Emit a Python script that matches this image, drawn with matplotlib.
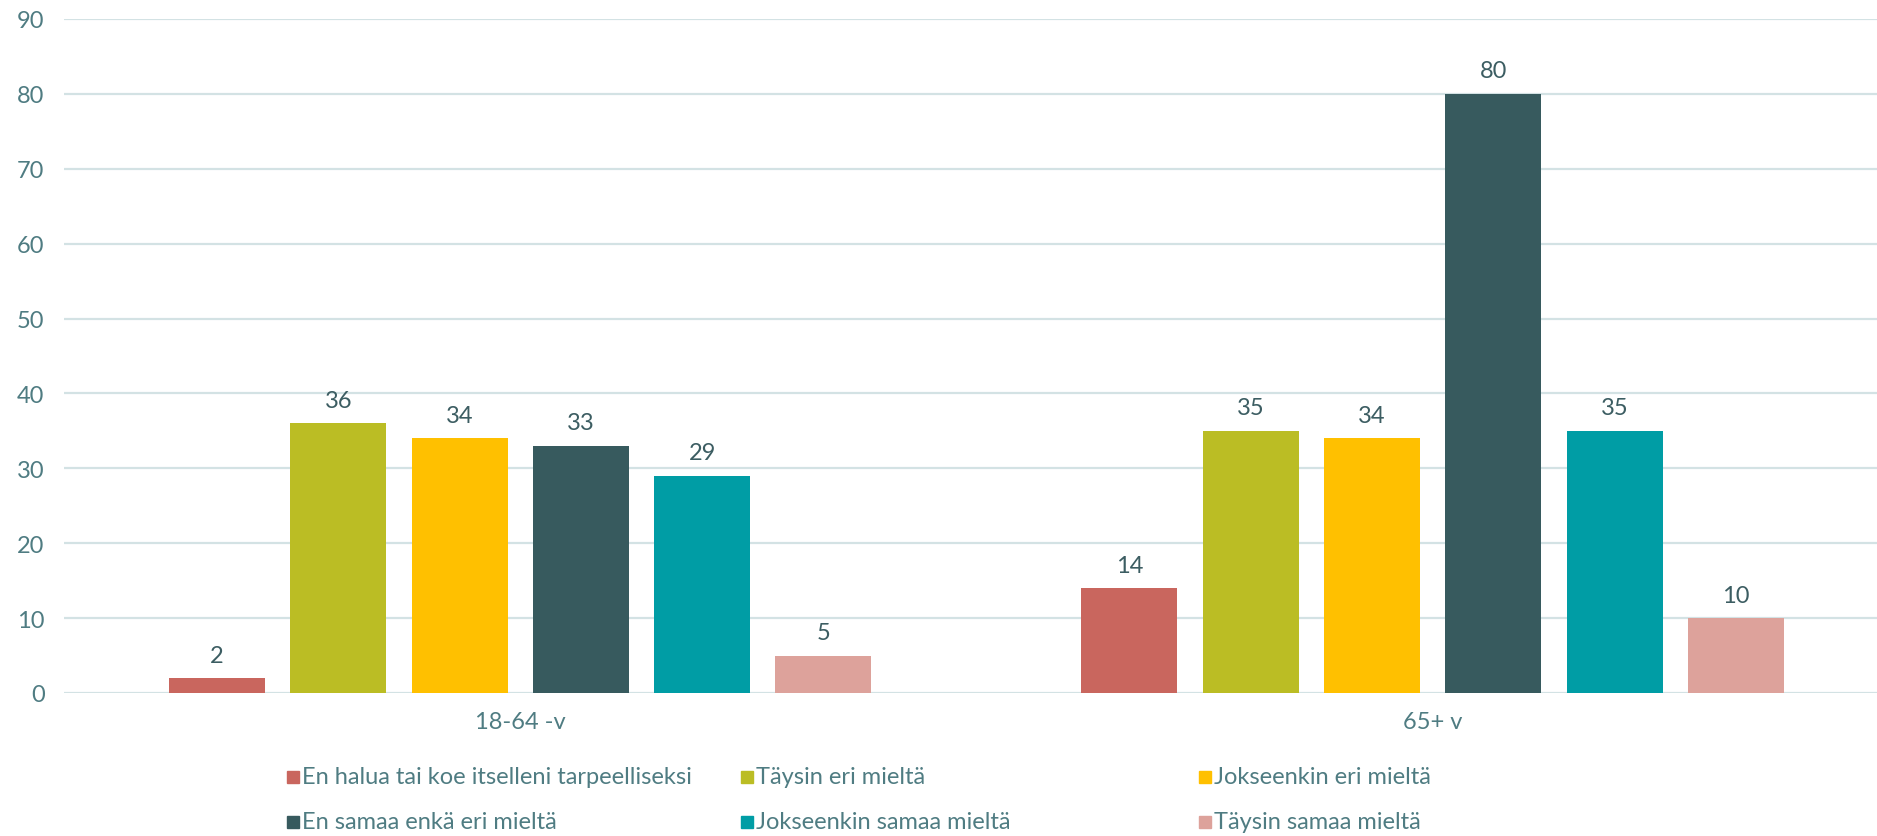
import matplotlib
matplotlib.use("Agg")
import matplotlib.pyplot as plt
from matplotlib.patches import Rectangle
import numpy as np

categories = ["18-64 -v", "65+ v"]
series_names = [
    "En halua tai koe itselleni tarpeelliseksi",
    "Täysin eri mieltä",
    "Jokseenkin eri mieltä",
    "En samaa enkä eri mieltä",
    "Jokseenkin samaa mieltä",
    "Täysin samaa mieltä",
]
values = [
    [2, 14],
    [36, 35],
    [34, 34],
    [33, 80],
    [29, 35],
    [5, 10],
]
colors = ["#C9665E", "#BBBD24", "#FFC000", "#375A5E", "#009DA5", "#DDA29B"]
yticks = [0, 10, 20, 30, 40, 50, 60, 70, 80, 90]

FONT = "Lato"
FS = 17
tick_color = "#4F7C82"
label_color = "#3C5D62"
grid_color = "#D3E2E4"

W, H = 1877, 837
fig = plt.figure(figsize=(W / 100, H / 100), dpi=100)
ax_left = 64 / W
ax_bottom = (H - 694) / H
ax_top = (H - 20) / H
ax = fig.add_axes([ax_left, ax_bottom, 1 - ax_left, ax_top - ax_bottom])

cat_px = 912.5
plot_px = W - 64
x = np.arange(len(categories))
pitch = 121.3 / cat_px
width = 96 / cat_px
n = len(series_names)
for i, (name, vals, c) in enumerate(zip(series_names, values, colors)):
    pos = x + (i - (n - 1) / 2) * pitch
    bars = ax.bar(pos, vals, width=width, color=c, zorder=3, label=name)
    for b, v in zip(bars, vals):
        ax.annotate(str(v), (b.get_x() + b.get_width() / 2, v),
                    xytext=(0, 9), textcoords="offset points",
                    ha="center", va="bottom", fontsize=FS,
                    color=label_color, family=FONT)

ax.set_xlim(-0.5, -0.5 + plot_px / cat_px)
ax.set_ylim(0, 90)
ax.set_yticks(yticks)
ax.set_yticklabels([str(t) for t in yticks], family=FONT, fontsize=FS, color=tick_color)
ax.set_xticks(x)
ax.set_xticklabels(categories, family=FONT, fontsize=FS, color=tick_color)
ax.tick_params(axis="y", length=0, pad=14)
ax.tick_params(axis="x", length=0, pad=13)
ax.grid(axis="y", color=grid_color, linewidth=1.6, zorder=0)
for s in ax.spines.values():
    s.set_visible(False)

# Legend (Excel-style fixed grid, row-major)
leg_x = [287, 741, 1199]
leg_y = [778, 823]
sq = 12
for i, (name, c) in enumerate(zip(series_names, colors)):
    r, col = divmod(i, 3)
    px, py = leg_x[col], leg_y[r]
    fig.patches.append(Rectangle((px / W, (H - py - sq / 2) / H), sq / W, sq / H,
                                 transform=fig.transFigure, color=c, figure=fig))
    fig.text((px + sq + 3) / W, (H - py) / H, name, family=FONT, fontsize=FS,
             color=tick_color, ha="left", va="center")

fig.savefig("out.png", dpi=100, facecolor="white")
